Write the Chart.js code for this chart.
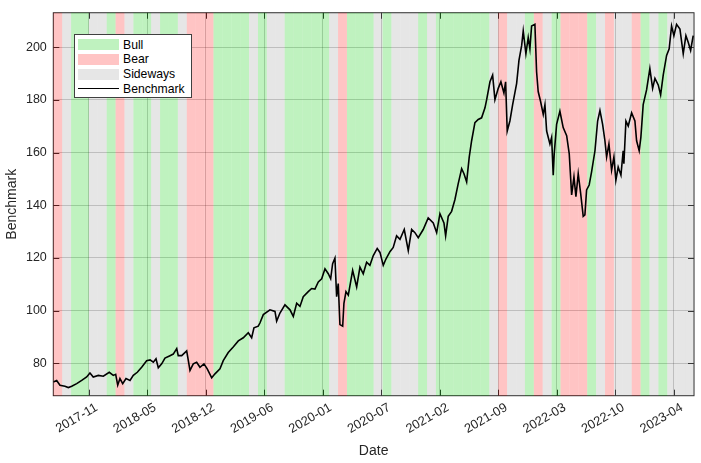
<!DOCTYPE html>
<html>
<head>
<meta charset="utf-8">
<script src="https://cdn.jsdelivr.net/npm/chart.js@4.4.1/dist/chart.umd.min.js"></script>
<style>
  html, body { margin: 0; padding: 0; background: #fff; }
  #wrap { position: relative; width: 701px; height: 463px; }
  #legend {
    position: absolute; left: 74px; top: 34px; width: 116px; height: 62px;
    border: 1px solid #404040; background: #fff;
    font: 12.2px 'Liberation Sans', Arial, sans-serif; color: #000;
  }
  #legend .row { position: absolute; left: 3px; height: 15px; display: flex; align-items: center; }
  #legend .sw { width: 41px; height: 11px; margin-right: 4px; }
  #legend .ln { width: 41px; height: 0; border-top: 1.5px solid #000; margin-right: 4px; }
</style>
</head>
<body>
<div id="wrap">
  <canvas id="myChart" width="701" height="463"></canvas>
  <div id="legend"></div>
</div>
<script>
// benchmark samples, x in months from start of the window
const benchMonth = [0,0.38,0.75,1.31,1.69,2.07,2.63,3.19,3.75,4.12,
  4.49,5.06,5.62,6.29,6.74,7.01,7.24,7.49,7.80,8.17,
  8.62,8.99,9.44,9.93,10.49,10.87,11.24,11.54,11.80,12.18,
  12.55,13.11,13.48,13.87,14.04,14.43,14.99,15.36,15.73,16.11,
  16.48,16.93,17.30,17.80,18.17,18.73,19.10,19.66,20.22,20.79,
  21.35,21.91,22.29,22.55,23.03,23.22,23.60,24.35,24.91,25.10,
  25.47,26.03,26.60,26.97,27.35,27.72,28.09,28.65,29.03,29.40,
  29.78,30.16,30.53,30.90,31.17,31.39,31.65,31.84,32.02,32.21,
  32.52,32.66,32.89,33.15,33.64,34.09,34.46,34.83,35.21,35.58,
  35.96,36.40,36.71,37.08,37.38,37.83,38.20,38.58,38.96,39.44,
  39.89,40.27,40.64,41.01,41.57,42.13,42.70,43.08,43.45,43.90,
  44.09,44.38,44.76,45.13,45.51,45.89,46.15,46.45,46.74,47.01,
  47.38,47.75,48.13,48.51,48.70,49.07,49.37,49.63,50.00,50.30,
  50.64,50.83,51.01,51.31,51.62,52.07,52.33,52.63,52.81,53.11,
  53.37,53.56,53.75,54.12,54.31,54.49,54.76,55.06,55.25,55.44,
  55.81,56.00,56.18,56.29,56.56,56.93,57.30,57.69,57.98,58.25,
  58.51,58.73,58.99,59.26,59.55,59.74,59.93,60.22,60.49,60.87,
  61.17,61.43,61.73,61.99,62.18,62.44,62.74,63.00,63.22,63.48,
  63.79,64.04,64.12,64.35,64.61,64.99,65.36,65.55,65.84,66.03,
  66.29,66.67,67.04,67.35,67.61,67.98,68.25,68.54,68.92,69.21,
  69.48,69.74,70.04,70.42,70.79,71.09,71.35,71.62,71.91];

const benchValue = [72.9,73.5,71.7,71.3,70.8,71.3,72.3,73.5,74.8,76.3,
  74.8,75.4,75.1,76.6,75.4,75.8,71.7,74.2,72.3,74.2,
  73.5,75.4,76.6,78.5,81.0,81.3,80.4,81.7,78.3,79.8,
  82.0,82.9,83.5,85.6,82.9,82.9,84.7,77.3,79.8,80.4,
  78.5,79.8,77.9,74.5,76.0,77.9,81.0,84.1,86.2,88.5,
  89.7,91.6,89.7,93.5,94.1,95.3,98.5,100.3,99.7,96.0,
  99.1,102.2,100.3,97.8,102.8,101.6,105.3,107.2,108.4,108.2,
  110.9,112.1,115.9,114.0,112.1,117.8,119.9,105.3,110.3,94.7,
  94.1,102.8,107.2,105.9,115.3,109.0,116.5,114.0,118.4,117.2,
  120.9,123.6,122.1,117.2,119.6,122.4,124.0,128.4,127.1,130.8,
  122.8,130.8,129.6,127.7,130.8,135.2,133.3,129.6,136.8,133.3,
  128.4,135.8,137.7,142.1,148.3,153.9,152.0,148.9,158.3,164.5,
  171.4,172.6,173.2,177.0,180.1,186.9,189.4,180.1,184.4,186.9,
  182.6,186.9,168.2,172.0,178.2,186.3,195.0,200.6,206.2,197.5,
  203.7,199.4,208.1,208.7,190.7,183.2,179.4,174.5,178.2,168.2,
  163.3,165.8,151.4,159.5,170.7,175.7,169.5,166.4,159.5,143.9,
  150.8,143.3,152.0,144.6,135.8,136.4,145.8,147.7,152.7,160.7,
  172.0,176.0,170.7,164.5,158.3,163.3,153.3,158.3,149.5,154.5,
  151.4,160.7,155.8,172.0,170.1,175.1,172.0,164.5,160.7,165.8,
  178.2,183.8,191.9,184.4,188.2,185.7,181.9,189.4,196.9,199.4,
  208.1,204.4,208.7,206.9,197.5,204.4,201.9,198.8,204.4];

// one regime per month block
const regimeByMonth = [
  'Bear','Sideways','Bull','Bull','Sideways','Sideways','Bull','Bear','Sideways','Bull',
  'Bull','Sideways','Bull','Bull','Sideways','Bear','Bear','Bear','Bull','Bull',
  'Bull','Bull','Sideways','Bull','Sideways','Sideways','Bull','Bull','Bull','Bull',
  'Bull','Sideways','Bear','Bull','Bull','Bull','Sideways','Bull','Sideways','Sideways',
  'Sideways','Bull','Sideways','Bull','Bull','Bull','Bull','Bull','Bull','Sideways',
  'Bear','Sideways','Sideways','Bull','Bear','Sideways','Bull','Bear','Bear','Bear',
  'Bull','Sideways','Bear','Sideways','Sideways','Bear','Bull','Sideways','Bull','Sideways',
  'Sideways','Sideways'];

const tickMonth = [3.98,10.56,17.13,23.71,30.28,36.86,43.44,50.01,56.59,63.16,69.74];
const tickLabels = ['2017-11','2018-05','2018-12','2019-06','2020-01','2020-07',
  '2021-02','2021-09','2022-03','2022-10','2023-04'];
const yTicks = [80, 100, 120, 140, 160, 180, 200];

const regimeColors = {
  Bull: 'rgba(0,204,0,0.25)',
  Bear: 'rgba(255,0,0,0.23)',
  Sideways: 'rgba(128,128,128,0.2)'
};
const axisColor = '#262626';
const fontFamily = "'Liberation Sans', Arial, sans-serif";

// box, inward ticks and the regime shading (drawn over the grid like the original)
const regimeBands = {
  id: 'regimeBands',
  beforeDatasetsDraw(chart) {
    const { ctx, chartArea: a, scales: { x, y } } = chart;
    ctx.save();
    ctx.strokeStyle = axisColor;
    ctx.lineWidth = 1;
    ctx.strokeRect(a.left, a.top, a.width, a.height);
    ctx.beginPath();
    x.ticks.forEach(t => {
      const px = Math.round(x.getPixelForValue(t.value)) + 0.5;
      ctx.moveTo(px, a.bottom); ctx.lineTo(px, a.bottom - 6);
      ctx.moveTo(px, a.top); ctx.lineTo(px, a.top + 6);
    });
    y.ticks.forEach(t => {
      const py = Math.round(y.getPixelForValue(t.value)) + 0.5;
      ctx.moveTo(a.left, py); ctx.lineTo(a.left + 6, py);
      ctx.moveTo(a.right, py); ctx.lineTo(a.right - 6, py);
    });
    ctx.stroke();

    regimeByMonth.forEach((r, i) => {
      const x0 = x.getPixelForValue(i);
      const x1 = x.getPixelForValue(i + 1);
      ctx.fillStyle = regimeColors[r];
      ctx.fillRect(x0, a.top, x1 - x0, a.height);
    });
    ctx.restore();
  }
};

const ctx = document.getElementById('myChart').getContext('2d');
new Chart(ctx, {
  type: 'line',
  data: {
    datasets: [{
      label: 'Benchmark',
      data: benchMonth.map((m, i) => ({ x: m, y: benchValue[i] })),
      borderColor: '#000',
      borderWidth: 1.6,
      pointRadius: 0,
      tension: 0
    }]
  },
  options: {
    responsive: false,
    animation: false,
    devicePixelRatio: 1,
    layout: { padding: { top: 6.7, right: 7, left: 0, bottom: 0 } },
    plugins: { legend: { display: false }, tooltip: { enabled: false } },
    scales: {
      x: {
        type: 'linear',
        min: 0,
        max: 72,
        afterBuildTicks: s => { s.ticks = tickMonth.map(v => ({ value: v })); },
        afterFit: s => { s.height = 67.3; },
        ticks: {
          autoSkip: false,
          minRotation: 30,
          maxRotation: 30,
          padding: 5.5,
          labelOffset: 8,
          color: axisColor,
          font: { family: fontFamily, size: 12.8, lineHeight: 1 },
          callback: (v, i) => tickLabels[i]
        },
        grid: { color: 'rgba(0,0,0,0.2)', drawTicks: false },
        border: { display: false },
        title: {
          display: true, text: 'Date', color: axisColor,
          font: { family: fontFamily, size: 14 },
          padding: { top: 0, bottom: 3.6 }
        }
      },
      y: {
        min: 67.7,
        max: 213.1,
        afterBuildTicks: s => { s.ticks = yTicks.map(v => ({ value: v })); },
        afterFit: s => { s.width = 53.3; },
        ticks: {
          padding: 6.5,
          color: axisColor,
          font: { family: fontFamily, size: 12.5, lineHeight: 1 }
        },
        grid: { color: 'rgba(0,0,0,0.2)', drawTicks: false },
        border: { display: false },
        title: {
          display: true, text: 'Benchmark', color: axisColor,
          font: { family: fontFamily, size: 14 },
          padding: { top: 3.6, bottom: 0 }
        }
      }
    }
  },
  plugins: [regimeBands]
});

// legend box in the upper left of the axes
const legendEl = document.getElementById('legend');
['Bull', 'Bear', 'Sideways', 'Benchmark'].forEach((name, i) => {
  const row = document.createElement('div');
  row.className = 'row';
  row.style.top = (2 + i * 14.8) + 'px';
  const mark = document.createElement('div');
  if (regimeColors[name]) {
    mark.className = 'sw';
    mark.style.background = regimeColors[name];
  } else {
    mark.className = 'ln';
  }
  row.appendChild(mark);
  row.appendChild(document.createTextNode(name));
  legendEl.appendChild(row);
});
</script>
</body>
</html>
